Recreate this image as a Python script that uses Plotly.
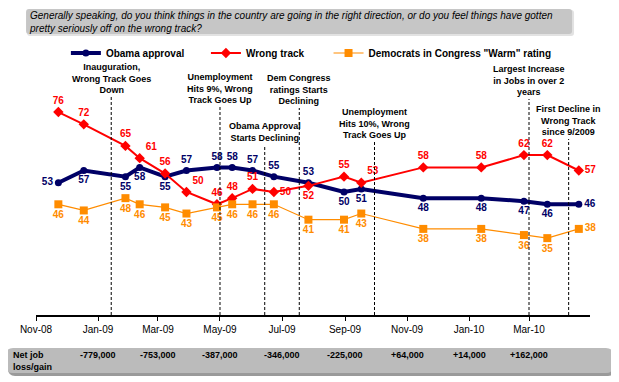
import plotly.graph_objects as go

# ---- data ----
survey_dates = ["2008-11-23", "2008-12-18", "2009-01-28", "2009-02-11", "2009-03-08",
                "2009-03-29", "2009-04-28", "2009-05-13", "2009-06-02", "2009-06-23",
                "2009-07-27", "2009-08-31", "2009-09-17", "2009-11-17", "2010-01-13",
                "2010-02-24", "2010-03-19", "2010-04-19"]
obama_approval = [53, 57, 55, 58, 55, 57, 58, 58, 57, 55, 53, 50, 51, 48, 48, 47, 46, 46]
wrong_track = [76, 72, 65, 61, 56, 50, 46, 48, 51, 50, 52, 55, 53, 58, 58, 62, 62, 57]
dems_warm = [46, 44, 48, 46, 45, 43, 45, 46, 46, 46, 41, 41, 43, 38, 38, 36, 35, 38]

event_dates = ["2009-01-14", "2009-05-01", "2009-06-14", "2009-07-18",
               "2009-09-30", "2010-03-01", "2010-04-09"]
event_texts = ["Inauguration,<br>Wrong Track Goes<br>Down",
               "Unemployment<br>Hits 9%, Wrong<br>Track Goes Up",
               "Obama Approval<br>Starts Declining",
               "Dem Congress<br>ratings Starts<br>Declining",
               "Unemployment<br>Hits 10%, Wrong<br>Track Goes Up",
               "Largest Increase<br>in Jobs in over 2<br>years",
               "First Decline in<br>Wrong Track<br>since 9/2009"]

job_dates = ["2009-01-01", "2009-03-01", "2009-05-01", "2009-07-01", "2009-09-01",
             "2009-11-01", "2010-01-01", "2010-03-01"]
job_labels = ["-779,000", "-753,000", "-387,000", "-346,000", "-225,000",
              "+64,000", "+14,000", "+162,000"]

question = ("Generally speaking, do you think things in the country are going in the right direction, "
            "or do you feel things have gotten<br>pretty seriously off on the wrong track?")

# ---- layout geometry (page has an 8px body margin) ----
OFF = 8
W, H = 619 - OFF, 382 - OFF
L, R, T, B = 34 - OFF, 619 - 590, 69 - OFF, 382 - 315
PW, PH = W - L - R, H - T - B
Y0, Y1 = 10, 90
FONT = "Arial, Liberation Sans, sans-serif"
NAVY, RED, ORANGE = "#000066", "#FF0000", "#FF8C00"
NB = "\u00a0"


def px(xp):
    """reference-page x pixel -> paper fraction"""
    return (xp - OFF - L) / PW


def py(yp):
    """reference-page y pixel -> paper fraction"""
    return (H - B - (yp - OFF)) / PH


def yval(yp):
    return Y0 + py(yp) * (Y1 - Y0)


def rounded_rect(x0, y0, x1, y1, r):
    """rounded rectangle path (page pixels in, paper coords out)"""
    a, b, c, d = px(x0), px(x1), py(y1), py(y0)  # left, right, bottom, top
    rx, ry = r / PW, r / PH
    return (f"M{a + rx},{d} L{b - rx},{d} Q{b},{d} {b},{d - ry} "
            f"L{b},{c + ry} Q{b},{c} {b - rx},{c} L{a + rx},{c} Q{a},{c} {a},{c + ry} "
            f"L{a},{d - ry} Q{a},{d} {a + rx},{d} Z")


obama_pos = ["middle left"] + ["bottom center"] * 4 + ["top center"] * 6 + \
            ["bottom center"] * 6 + ["middle right"]
wrong_pos = ["top center"] * 17 + ["middle right"]
wrong_pos[3] = "top right"
wrong_pos[5] = "top right"
wrong_pos[9] = "middle right"
wrong_pos[10] = "bottom center"
wrong_pos[12] = "top right"
dems_pos = ["bottom center"] * 17 + ["middle right"]

fig = go.Figure()
fig.add_trace(go.Scatter(
    x=survey_dates, y=obama_approval, name="Obama approval" + NB * 6,
    mode="lines+markers+text",
    line=dict(color=NAVY, width=4), marker=dict(symbol="circle", size=7, color=NAVY),
    text=[str(v) for v in obama_approval], textposition=obama_pos,
    textfont=dict(family=FONT, size=10, color=NAVY, weight="bold"), cliponaxis=False))
fig.add_trace(go.Scatter(
    x=survey_dates, y=wrong_track, name="Wrong track" + NB * 7, mode="lines+markers+text",
    line=dict(color=RED, width=2), marker=dict(symbol="diamond", size=8, color=RED),
    text=[str(v) for v in wrong_track], textposition=wrong_pos,
    textfont=dict(family=FONT, size=10, color=RED, weight="bold"), cliponaxis=False))
fig.add_trace(go.Scatter(
    x=survey_dates, y=dems_warm, name='Democrats in Congress "Warm" rating',
    mode="lines+markers+text",
    line=dict(color=ORANGE, width=1.2), marker=dict(symbol="square", size=8, color=ORANGE),
    text=[str(v) for v in dems_warm], textposition=dems_pos,
    textfont=dict(family=FONT, size=10, color=ORANGE, weight="bold"), cliponaxis=False))

shapes = []
annotations = []
line_tops = [97, 107, 145, 108, 142, 99, 139]
for d, txt, top in zip(event_dates, event_texts, line_tops):
    shapes.append(dict(type="line", xref="x", yref="y", x0=d, x1=d, y0=Y0, y1=yval(top),
                       line=dict(color="black", width=1, dash="3px,2px")))
    annotations.append(dict(x=d, xref="x", y=py(top), yref="paper", text=txt,
                            showarrow=False, yanchor="bottom", align="center",
                            font=dict(family=FONT, size=9, color="black", weight="bold")))

# title box (with faint shadow)
shapes.append(dict(type="path", xref="paper", yref="paper", path=rounded_rect(25, 10, 574, 36, 3),
                   fillcolor="#E2E2E2", line=dict(width=0), layer="below"))
shapes.append(dict(type="path", xref="paper", yref="paper", path=rounded_rect(24, 9, 572, 34, 3),
                   fillcolor="#C6C6C6", line=dict(width=0), layer="below"))
annotations.append(dict(x=px(25), y=py(22), xref="paper", yref="paper", text=question,
                        showarrow=False, xanchor="left", yanchor="middle", align="left",
                        font=dict(family=FONT, size=10, color="black", style="italic")))

# bottom net job box (with shadow)
shapes.append(dict(type="path", xref="paper", yref="paper", path=rounded_rect(6, 350, 615, 376, 7),
                   fillcolor="#9A9A9A", line=dict(width=0), layer="below"))
shapes.append(dict(type="path", xref="paper", yref="paper", path=rounded_rect(4, 348, 613, 373, 7),
                   fillcolor="#BBBBBB", line=dict(width=0), layer="below"))
annotations.append(dict(x=px(9), y=py(361), xref="paper", yref="paper",
                        text="Net job<br>loss/gain", showarrow=False, xanchor="left",
                        yanchor="middle", align="left",
                        font=dict(family=FONT, size=9, color="black", weight="bold")))
for d, lab in zip(job_dates, job_labels):
    annotations.append(dict(x=d, xref="x", y=py(355), yref="paper", text=lab,
                            showarrow=False, xanchor="center", yanchor="middle",
                            font=dict(family=FONT, size=9, color="black", weight="bold")))

fig.update_layout(
    width=W, height=H, margin=dict(l=L, r=R, t=T, b=B),
    paper_bgcolor="white", plot_bgcolor="white",
    font=dict(family=FONT, size=10, color="black"),
    showlegend=True,
    legend=dict(orientation="h", x=px(64), y=py(53), xanchor="left", yanchor="middle",
                font=dict(family=FONT, size=10, color="black", weight="bold"),
                bgcolor="rgba(0,0,0,0)", itemwidth=30, tracegroupgap=0),
    xaxis=dict(type="date", range=["2008-11-01", "2010-04-30"], tick0="2008-11-01",
               dtick="M2", tickformat="%b-%y", showgrid=False, zeroline=False,
               showline=True, linecolor="black", linewidth=1.5, ticks="outside",
               ticklen=4, tickcolor="black", tickfont=dict(family=FONT, size=10, color="black")),
    yaxis=dict(range=[Y0, Y1], visible=False, showgrid=False),
    shapes=shapes, annotations=annotations,
)

fig.write_html("out.html")
